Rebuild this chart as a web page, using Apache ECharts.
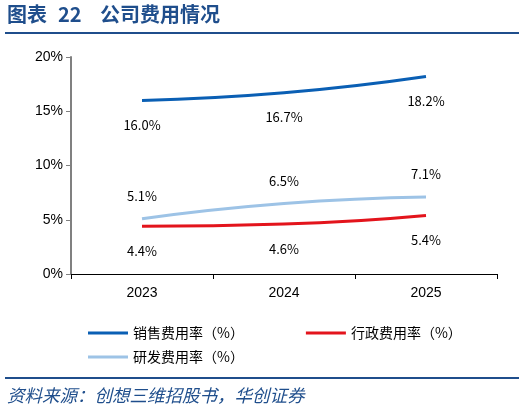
<!DOCTYPE html>
<html><head><meta charset="utf-8">
<script src="https://cdn.jsdelivr.net/npm/echarts@6/dist/echarts.min.js"></script>
<style>html,body{margin:0;padding:0;background:#fff}#c{width:524px;height:413px}</style>
</head><body><div id="c"></div>
<script>
const categories = ['2023', '2024', '2025'];
const salesRate = [16.0, 16.7, 18.2];
const adminRate = [4.4, 4.6, 5.4];
const rdRate = [5.1, 6.5, 7.1];
const yTicks = [0, 5, 10, 15, 20];
const names = ['销售费用率（%）', '行政费用率（%）', '研发费用率（%）'];

const chart = echarts.init(document.getElementById('c'));
const lbl = (pos, dist) => ({
  show: true, position: pos, distance: dist, color: '#000', fontSize: 13,
  fontFamily: 'Noto Sans CJK SC',
  formatter: p => p.value.toFixed(1) + '%'
});
const legendText = {fontSize: 14, color: '#000', fontFamily: 'Noto Sans CJK SC'};
const titleFont = 'bold 20px "Noto Sans CJK SC"';
chart.setOption({
  animation: false,
  graphic: [
    {type: 'text', left: 7, top: 4, style: {text: '图表', font: titleFont, fill: '#1f4e8c'}},
    {type: 'text', left: 58, top: 4, style: {text: '22', font: titleFont, fill: '#1f4e8c'}},
    {type: 'text', left: 100, top: 4, style: {text: '公司费用情况', font: titleFont, fill: '#1f4e8c'}},
    {type: 'rect', shape: {x: 5, y: 32, width: 514, height: 2}, style: {fill: '#1f4e8c'}},
    {type: 'rect', shape: {x: 5, y: 377, width: 514, height: 2}, style: {fill: '#1f4e8c'}},
    {type: 'text', left: 7, top: 387, style: {text: '资料来源：创想三维招股书，华创证券', font: 'italic 17.5px "Noto Sans CJK SC"', fill: '#1f4e8c'}}
  ],
  grid: {left: 71, top: 57, width: 426, height: 217},
  legend: [
    {data: [names[0], names[1]], left: 88, top: 326, padding: 0, itemWidth: 40, itemHeight: 3, itemGap: 62,
     icon: 'rect', textStyle: legendText},
    {data: [names[2]], left: 88, top: 350, padding: 0, itemWidth: 40, itemHeight: 3,
     icon: 'rect', textStyle: legendText}
  ],
  xAxis: {
    type: 'category', data: categories, boundaryGap: true,
    axisLine: {lineStyle: {color: '#000', width: 1}},
    axisTick: {show: true, length: 5, lineStyle: {color: '#000'}},
    axisLabel: {color: '#000', fontSize: 14, fontFamily: 'Liberation Sans', margin: 12}
  },
  yAxis: {
    type: 'value', min: yTicks[0], max: yTicks[yTicks.length - 1], interval: 5,
    axisLine: {show: true, lineStyle: {color: '#808080', width: 2}},
    axisTick: {show: true, length: 5, lineStyle: {color: '#808080'}},
    splitLine: {show: false},
    axisLabel: {color: '#000', fontSize: 14, fontFamily: 'Liberation Sans', formatter: v => v + '%', margin: 8}
  },
  series: [
    {name: names[0], type: 'line', data: salesRate, smooth: true, symbol: 'circle', symbolSize: 0.01, showSymbol: true,
     lineStyle: {color: '#0a5fb4', width: 3}, itemStyle: {color: '#0a5fb4'}, label: lbl('bottom', 18)},
    {name: names[1], type: 'line', data: adminRate, smooth: true, symbol: 'circle', symbolSize: 0.01, showSymbol: true,
     lineStyle: {color: '#e3141c', width: 3}, itemStyle: {color: '#e3141c'}, label: lbl('bottom', 18)},
    {name: names[2], type: 'line', data: rdRate, smooth: true, symbol: 'circle', symbolSize: 0.01, showSymbol: true,
     lineStyle: {color: '#9dc3e6', width: 3}, itemStyle: {color: '#9dc3e6'}, label: lbl('top', 16)}
  ]
});
</script></body></html>
